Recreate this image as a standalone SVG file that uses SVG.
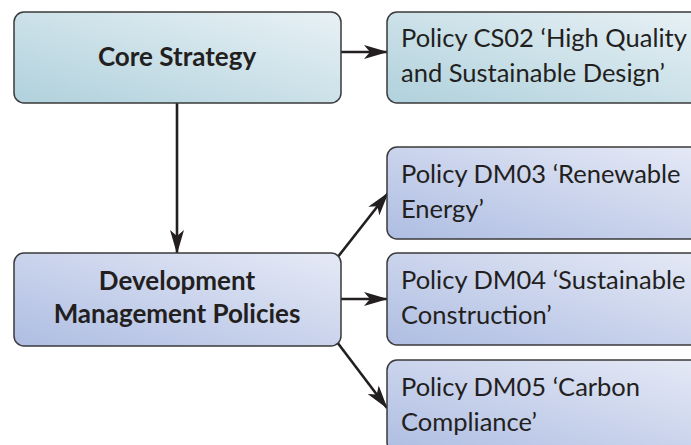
<svg xmlns="http://www.w3.org/2000/svg" width="691" height="445" viewBox="0 0 691 445">
<defs>
<linearGradient id="gTeal" x1="0" y1="1" x2="1" y2="0">
<stop offset="0" stop-color="#b0d1dc"/>
<stop offset="1" stop-color="#e8f1f5"/>
</linearGradient>
<linearGradient id="gBlue" x1="0" y1="1" x2="1" y2="0">
<stop offset="0" stop-color="#aebde2"/>
<stop offset="1" stop-color="#e6eaf6"/>
</linearGradient>
<marker id="arr" markerWidth="24" markerHeight="14" refX="23" refY="7" orient="auto" markerUnits="userSpaceOnUse">
<path d="M0,0 L24,7 L0,14 L6,7 Z" fill="#231f20"/>
</marker>
<style>
.teal{fill:url(#gTeal);stroke:#3a3a3a;stroke-width:1.5}
.blue{fill:url(#gBlue);stroke:#3a3a3a;stroke-width:1.5}
.t{font-family:Lato,"Open Sans","DejaVu Sans",sans-serif;font-size:25.5px;fill:#231f20}
.b{font-family:Lato,"Open Sans","DejaVu Sans",sans-serif;font-size:26px;font-weight:bold;fill:#231f20;text-anchor:middle}
.c{stroke:#231f20;stroke-width:2.6;fill:none;marker-end:url(#arr)}
</style>
</defs>
<g id="connectors">
<line class="c" x1="341" y1="52" x2="387" y2="52"/>
<line class="c" x1="177" y1="103" x2="177" y2="253"/>
<line class="c" x1="337" y1="258" x2="388" y2="193"/>
<line class="c" x1="341" y1="299" x2="387" y2="299"/>
<line class="c" x1="337" y1="342" x2="387" y2="408"/>
</g>
<g id="core">
<rect class="teal" x="14" y="12" width="327" height="91" rx="10"/>
<text class="b" x="177" y="66">Core Strategy</text>
</g>
<g id="cs02">
<rect class="teal" x="387" y="12" width="320" height="91" rx="10"/>
<text class="t" x="401" y="47">Policy CS02 ‘High Quality</text>
<text class="t" x="401" y="82">and Sustainable Design’</text>
</g>
<g id="dm">
<rect class="blue" x="14" y="253" width="327" height="93" rx="10"/>
<text class="b" x="177" y="290">Development</text>
<text class="b" x="177" y="323">Management Policies</text>
</g>
<g id="dm03">
<rect class="blue" x="387" y="147" width="320" height="92" rx="10"/>
<text class="t" x="401" y="183">Policy DM03 ‘Renewable</text>
<text class="t" x="401" y="218">Energy’</text>
</g>
<g id="dm04">
<rect class="blue" x="387" y="253" width="320" height="92" rx="10"/>
<text class="t" x="401" y="289">Policy DM04 ‘Sustainable</text>
<text class="t" x="401" y="324">Construction’</text>
</g>
<g id="dm05">
<rect class="blue" x="387" y="360" width="320" height="92" rx="10"/>
<text class="t" x="401" y="396">Policy DM05 ‘Carbon</text>
<text class="t" x="401" y="431">Compliance’</text>
</g>
</svg>
